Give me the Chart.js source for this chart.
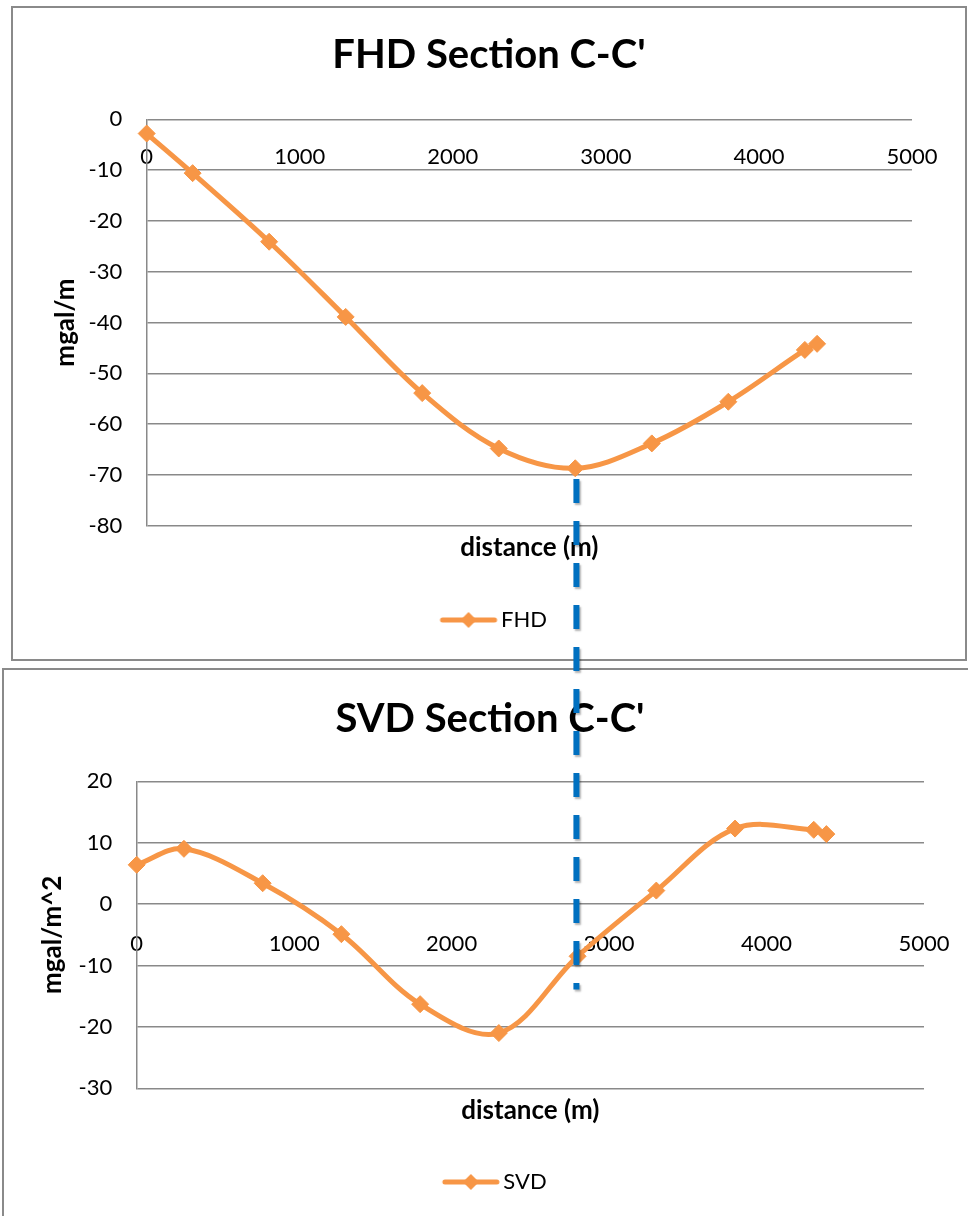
<!DOCTYPE html>
<html>
<head>
<meta charset="utf-8">
<script src="https://cdn.jsdelivr.net/npm/chart.js@4.4.1/dist/chart.umd.min.js"></script>
<style>
html,body{margin:0;padding:0;background:#fff;overflow:hidden;width:968px;height:1216px;}
.box{position:absolute;border:2px solid #8a8a8a;background:#fff;}
#boxTop{left:11px;top:6px;}
#boxBottom{left:2px;top:668px;}
canvas{display:block;}
#overlay{position:absolute;left:0;top:0;pointer-events:none;}
</style>
</head>
<body>
<div class="box" id="boxTop"><canvas id="cTop" width="952" height="651"></canvas></div>
<div class="box" id="boxBottom"><canvas id="cBottom" width="972" height="556"></canvas></div>
<canvas id="overlay" width="968" height="1216"></canvas>
<script>
// ---- data ----
const distance = [0, 300, 800, 1300, 1800, 2300, 2800, 3300, 3800, 4300, 4380];
const fhdValues = [-2.8, -10.6, -24.1, -38.9, -53.9, -64.8, -68.7, -63.8, -55.6, -45.4, -44.2];
const svdValues = [6.4, 9.0, 3.4, -4.9, -16.3, -21.0, -8.5, 2.2, 12.3, 12.1, 11.4];
const xTickValues = [0, 1000, 2000, 3000, 4000, 5000];
const fhdTickValues = [0, -10, -20, -30, -40, -50, -60, -70, -80];
const svdTickValues = [20, 10, 0, -10, -20, -30];
const markerX = 2800;        // dashed marker position (distance)
const markerTopY = -70.8;    // start, in FHD units
const markerBottomY = -13.9; // end, in SVD units

const ORANGE = '#F79646';
const GRID = '#898989';
const FONT = 'Lato';

function legendIcon() {
  // icon drawn offset to the right inside a wider transparent image
  const c = document.createElement('canvas');
  c.width = 76; c.height = 20;
  const g = c.getContext('2d');
  g.strokeStyle = ORANGE; g.lineWidth = 5; g.lineCap = 'round';
  g.beginPath(); g.moveTo(20, 10); g.lineTo(72, 10); g.stroke();
  g.fillStyle = ORANGE;
  g.beginPath(); g.moveTo(38, 10); g.lineTo(46, 2); g.lineTo(54, 10); g.lineTo(46, 18); g.closePath(); g.fill();
  return c;
}

function ticksFrom(arr) {
  return s => { s.ticks = arr.map(v => ({ value: v })); };
}

function buildChart(canvas, o) {
  const icon = legendIcon();
  const yMin = Math.min(...o.yTicks), yMax = Math.max(...o.yTicks);
  return new Chart(canvas, {
    type: 'line',
    data: {
      datasets: [{
        label: o.label,
        data: distance.map((x, i) => ({ x: x, y: o.values[i] })),
        xAxisID: 'x', yAxisID: 'y',
        borderColor: ORANGE, backgroundColor: ORANGE,
        borderWidth: 5, borderJoinStyle: 'round', borderCapStyle: 'round',
        pointStyle: 'rectRot', pointRadius: 8.5, pointBorderWidth: 1,
        pointBackgroundColor: ORANGE, pointBorderColor: ORANGE,
        tension: 0.35, clip: false, fill: false
      }]
    },
    options: {
      responsive: false, animation: false, events: [],
      layout: { padding: { left: 0, right: 0, top: 0, bottom: o.padBottom } },
      plugins: {
        title: {
          display: true, text: o.title, color: '#000',
          font: { family: FONT, size: 40, weight: 'bold' },
          padding: { top: o.titleTop, bottom: o.titleBottom }
        },
        legend: {
          display: true, position: 'bottom',
          labels: {
            usePointStyle: true, pointStyle: icon, pointStyleWidth: 59,
            padding: 10, color: '#000', font: { family: FONT, size: 22 }
          }
        },
        tooltip: { enabled: false }
      },
      scales: {
        x: {
          type: 'linear', position: { y: 0 },
          min: xTickValues[0], max: xTickValues[xTickValues.length - 1],
          afterBuildTicks: ticksFrom(xTickValues),
          afterFit: s => { s.height = 0; },
          grid: { display: false }, border: { display: false },
          ticks: {
            padding: o.xTickPad, color: '#000', font: { family: FONT, size: 22 },
            callback: v => String(v), maxRotation: 0, autoSkip: false
          }
        },
        xt: {
          type: 'linear', position: 'bottom', min: 0, max: 1,
          grid: { display: false }, border: { display: false }, ticks: { display: false },
          title: {
            display: true, text: 'distance (m)', color: '#000',
            font: { family: FONT, size: 26, weight: 'bold' },
            padding: { top: 0, bottom: o.xTitlePad }
          },
          afterFit: s => { s.height = o.xtHeight; }
        },
        y: {
          type: 'linear', position: 'left', min: yMin, max: yMax,
          afterBuildTicks: ticksFrom(o.yTicks),
          afterFit: s => { s.width = o.yWidth; },
          grid: { color: GRID, lineWidth: 1.5, drawTicks: false },
          border: { display: true, color: GRID, width: 1.5 },
          ticks: {
            padding: 24.5, color: '#000', font: { family: FONT, size: 22 },
            callback: v => String(v), autoSkip: false
          },
          title: {
            display: true, text: o.yTitle, color: '#000',
            font: { family: FONT, size: 26, weight: 'bold' },
            padding: { top: o.yTitlePad, bottom: 0 }
          }
        },
        yr: {
          type: 'linear', position: 'right', min: 0, max: 1,
          grid: { display: false }, border: { display: false }, ticks: { display: false },
          afterFit: s => { s.width = o.rightPad; }
        }
      }
    }
  });
}

function init() {
  const top = buildChart(document.getElementById('cTop'), {
    label: 'FHD', values: fhdValues, yTicks: fhdTickValues,
    title: "FHD Section C-C'", yTitle: 'mgal/m',
    padBottom: 18, titleTop: 23.5, titleBottom: 39.8,
    xTickPad: 16, xTitlePad: 35.4, xtHeight: 73.3,
    yWidth: 133.7, yTitlePad: 37.4, rightPad: 53
  });
  const bottom = buildChart(document.getElementById('cBottom'), {
    label: 'SVD', values: svdValues, yTicks: svdTickValues,
    title: "SVD Section C-C'", yTitle: 'mgal/m^2',
    padBottom: 23, titleTop: 25, titleBottom: 38.3,
    xTickPad: 19, xTitlePad: 34.4, xtHeight: 72.7,
    yWidth: 132.7, yTitlePad: 33.4, rightPad: 52
  });

  // dashed marker spanning both charts
  const ov = document.getElementById('overlay');
  const ctx = ov.getContext('2d');
  const r1 = top.canvas.getBoundingClientRect();
  const r2 = bottom.canvas.getBoundingClientRect();
  const x = ((r1.left + top.scales.x.getPixelForValue(markerX)) +
             (r2.left + bottom.scales.x.getPixelForValue(markerX))) / 2;
  const y1 = r1.top + top.scales.y.getPixelForValue(markerTopY);
  const y2 = r2.top + bottom.scales.y.getPixelForValue(markerBottomY);
  ctx.save();
  ctx.strokeStyle = '#0070C0';
  ctx.lineWidth = 6;
  ctx.setLineDash([24, 18]);
  ctx.shadowColor = 'rgba(0,0,0,0.3)';
  ctx.shadowOffsetX = 1.5; ctx.shadowOffsetY = 2; ctx.shadowBlur = 2;
  ctx.beginPath(); ctx.moveTo(x, y1); ctx.lineTo(x, y2); ctx.stroke();
  ctx.restore();
}

let started = false;
function start() { if (!started) { started = true; init(); } }
if (document.fonts && document.fonts.load) {
  Promise.all([
    document.fonts.load('bold 40px Lato'),
    document.fonts.load('22px Lato')
  ]).then(start, start);
  setTimeout(start, 1500);
} else {
  start();
}
</script>
</body>
</html>
